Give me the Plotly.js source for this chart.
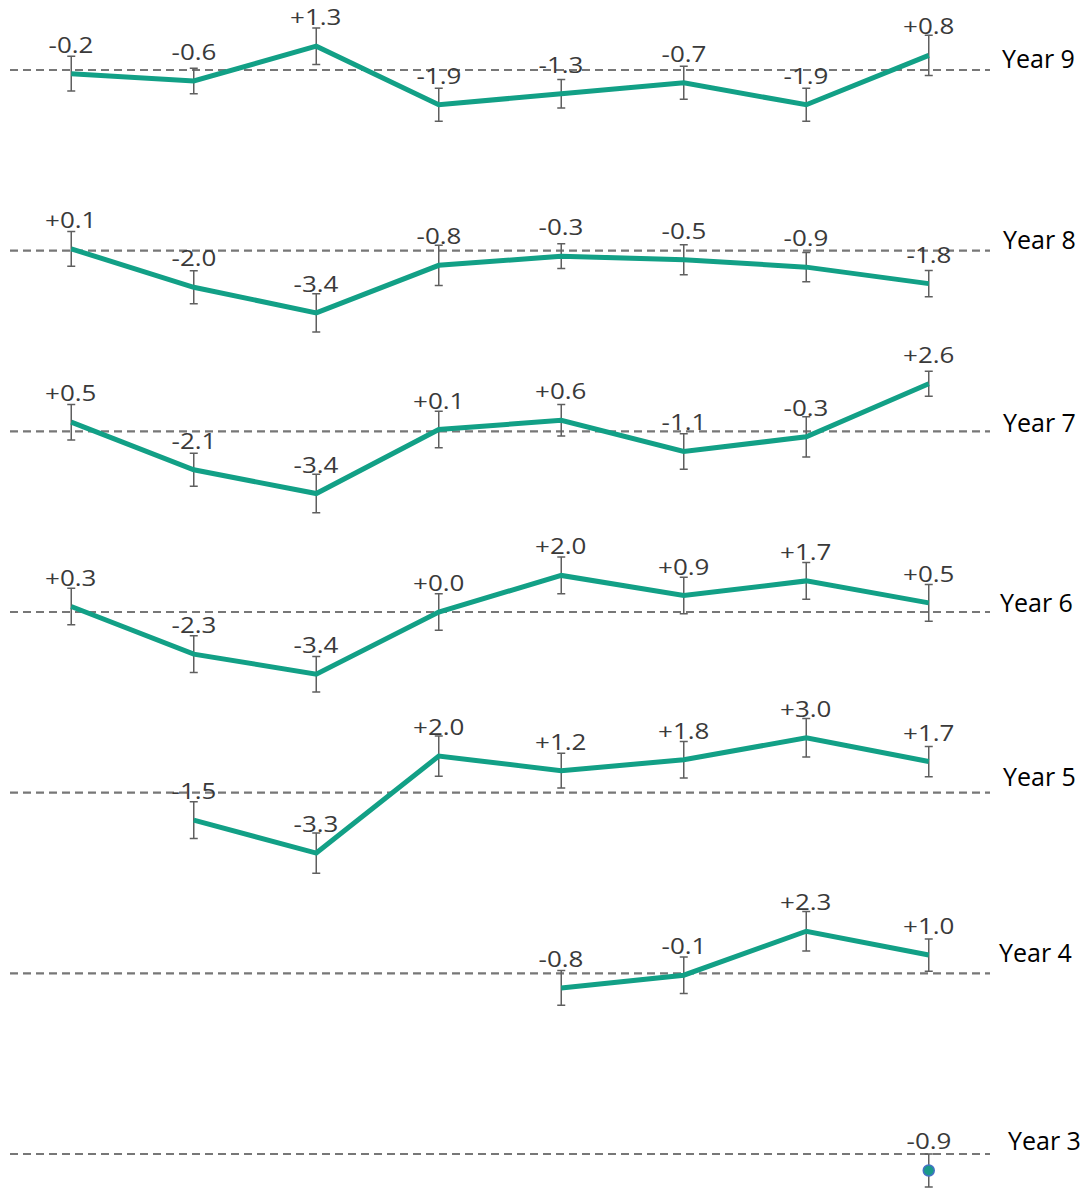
<!DOCTYPE html>
<html>
<head>
<meta charset="utf-8">
<script src="https://cdn.plot.ly/plotly-3.0.1.min.js"></script>
<style>
  html, body { margin: 0; padding: 0; background: #ffffff; }
  #chart { width: 1087px; height: 1189px; }
</style>
</head>
<body>
<div id="chart"></div>
<script>
// Eight assessment points along the x axis (no tick labels are shown)
const checkpoints = ['P1', 'P2', 'P3', 'P4', 'P5', 'P6', 'P7', 'P8'];

// One row per year group, top to bottom
const yearGroups = ['Year 9', 'Year 8', 'Year 7', 'Year 6', 'Year 5', 'Year 4', 'Year 3'];

// Difference from the reference line, and its uncertainty (+/-)
const year9    = [-0.2, -0.6, 1.3, -1.9, -1.3, -0.7, -1.9, 0.8];
const year9Err = [0.95, 0.7, 1.0, 0.9, 0.78, 0.9, 0.9, 1.1];

const year8    = [0.1, -2.0, -3.4, -0.8, -0.3, -0.5, -0.9, -1.8];
const year8Err = [0.95, 0.9, 1.05, 1.1, 0.68, 0.82, 0.8, 0.72];

const year7    = [0.5, -2.1, -3.4, 0.1, 0.6, -1.1, -0.3, 2.6];
const year7Err = [0.97, 0.9, 1.05, 1.0, 0.86, 0.97, 1.1, 0.68];

const year6    = [0.3, -2.3, -3.4, 0.0, 2.0, 0.9, 1.7, 0.5];
const year6Err = [1.0, 1.0, 0.97, 1.0, 1.0, 1.0, 1.0, 1.0];

const year5    = [null, -1.5, -3.3, 2.0, 1.2, 1.8, 3.0, 1.7];
const year5Err = [null, 1.0, 1.1, 1.1, 0.95, 1.0, 1.05, 0.83];

const year4    = [null, null, null, null, -0.8, -0.1, 2.3, 1.0];
const year4Err = [null, null, null, null, 0.95, 1.0, 1.08, 0.88];

const year3    = [null, null, null, null, null, null, null, -0.9];
const year3Err = [null, null, null, null, null, null, null, 0.9];

const rowValues = [year9, year8, year7, year6, year5, year4, year3];
const rowErrors = [year9Err, year8Err, year7Err, year6Err, year5Err, year4Err, year3Err];

// ---- layout constants (pixels) ----
const W = 1087, H = 1189;
const firstBaseline = 70;      // baseline of the top row
const rowGap = 180.67;         // distance between row baselines
const pxPerUnit = 18.3;        // vertical scale shared by every row
const labelLift = 30;          // value labels sit this far above their point
// nudges for the row titles on the right: [dx, dy] in px
const titleNudge = [[10, 12], [11, 12], [11, 9], [8, 10], [11, 17], [7, 21], [16, 14]];

const teal = '#12a086';
const traces = [];
const annotations = [];
const shapes = [];
const layout = {
  width: W, height: H,
  margin: { l: 10, r: 97, t: 0, b: 0, pad: 0 },
  paper_bgcolor: '#ffffff',
  plot_bgcolor: '#ffffff',
  showlegend: false,
  font: { family: 'Open Sans, sans-serif' },
  xaxis: { type: 'category', range: [-0.5, 7.5], visible: false, fixedrange: true }
};

rowValues.forEach((vals, i) => {
  const axisName = i === 0 ? 'yaxis' : 'yaxis' + (i + 1);
  const axisRef = i === 0 ? 'y' : 'y' + (i + 1);
  const baseline = firstBaseline + rowGap * i;
  layout[axisName] = {
    range: [-(H - baseline) / pxPerUnit, baseline / pxPerUnit],
    visible: false,
    fixedrange: true
  };
  if (i > 0) layout[axisName].overlaying = 'y';

  // dashed reference line for the row
  shapes.push({
    type: 'line', xref: 'paper', x0: 0, x1: 1,
    yref: axisRef, y0: 0, y1: 0,
    line: { color: '#777777', width: 2.2, dash: '8px,5px' },
    layer: 'below'
  });

  const count = vals.filter(v => v !== null).length;
  traces.push({
    type: 'scatter',
    x: checkpoints,
    y: vals,
    yaxis: axisRef,
    mode: count > 1 ? 'lines' : 'markers',
    line: { color: teal, width: 5 },
    marker: { size: 11, color: '#1a9a8a', line: { color: '#4472c4', width: 1.5 } },
    error_y: { type: 'data', array: rowErrors[i], visible: true, color: '#5f5f5f', thickness: 1.5, width: 4 },
    hoverinfo: 'skip',
    cliponaxis: false
  });
});

// value labels above each point
let valueLabelCount = 0;
rowValues.forEach((vals, i) => {
  const axisRef = i === 0 ? 'y' : 'y' + (i + 1);
  vals.forEach((v, j) => {
    if (v === null) return;
    annotations.push({
      x: checkpoints[j], y: v, xref: 'x', yref: axisRef,
      text: (v >= 0 ? '+' : '') + v.toFixed(1),
      showarrow: false, yshift: labelLift, yanchor: 'middle', xanchor: 'center',
      font: { family: 'Open Sans, sans-serif', size: 22, color: '#3a3a3a' }
    });
    valueLabelCount++;
  });
});

// row titles on the right
yearGroups.forEach((name, i) => {
  const axisRef = i === 0 ? 'y' : 'y' + (i + 1);
  annotations.push({
    x: 1, xref: 'paper', y: 0, yref: axisRef,
    text: name, showarrow: false,
    xanchor: 'left', yanchor: 'middle',
    xshift: titleNudge[i][0], yshift: titleNudge[i][1],
    font: { family: 'Open Sans, sans-serif', size: 25, color: '#000000' }
  });
});

layout.shapes = shapes;
layout.annotations = annotations;

Plotly.newPlot('chart', traces, layout, { staticPlot: true, displayModeBar: false }).then(gd => {
  // widen the value labels a little, keeping each one centred on its point
  gd.querySelectorAll('g.annotation').forEach(g => {
    const idx = Number(g.getAttribute('data-index'));
    if (idx < valueLabelCount) {
      const t = g.querySelector('text');
      if (t) {
        t.style.transformBox = 'fill-box';
        t.style.transformOrigin = 'center';
        t.style.transform = 'scaleX(1.18)';
      }
    }
  });
});
</script>
</body>
</html>
